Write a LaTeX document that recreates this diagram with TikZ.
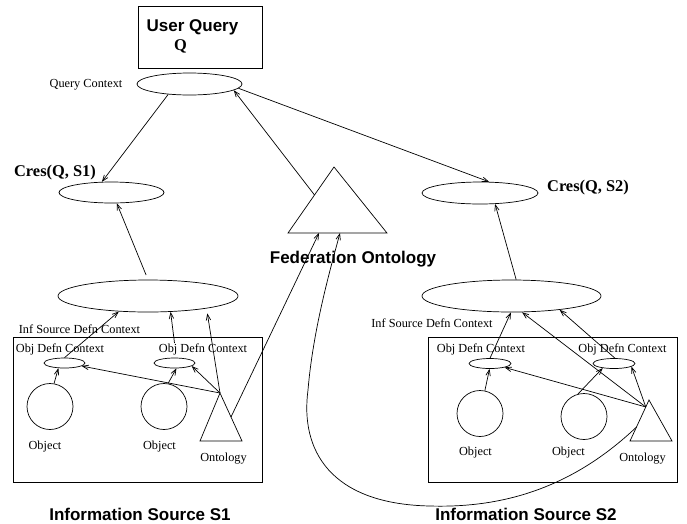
\documentclass[tikz,border=0pt]{standalone}
\usepackage{fontspec}
\setmainfont{Liberation Serif}
\newfontfamily\hvfont{Liberation Sans}
\usetikzlibrary{shapes.geometric,arrows.meta,calc}
\begin{document}
\begin{tikzpicture}[x=1pt,y=-1pt,line width=0.7pt,
  arr/.style={-{Straight Barb[length=6pt,width=4.5pt]}},
  ell/.style={draw,ellipse,inner sep=0pt},
  circ/.style={draw,circle,inner sep=0pt,minimum size=46pt},
  boxed/.style={draw,line width=0.9pt,inner sep=0pt},
  small/.style={font=\fontsize{12.3}{14}\selectfont,inner sep=0pt},
  big/.style={font=\hvfont\bfseries\fontsize{17}{20}\selectfont,inner sep=0pt},
  bigser/.style={font=\bfseries\fontsize{16.4}{19}\selectfont,inner sep=0pt}]
\useasboundingbox (0,0) rectangle (687,523);

% boxes
\node[boxed,minimum width=124pt,minimum height=62pt] (uq) at (200,37) {};
\node[big] (uqt) at (192.5,27) {User Query};
\node[bigser] (uqq) at (180.5,46) {Q};
\node[boxed,minimum width=249pt,minimum height=145pt] (box1) at (137.5,409.5) {};
\node[boxed,minimum width=249pt,minimum height=145pt] (box2) at (552.5,409.5) {};

% top ellipses
\node[ell,minimum width=105pt,minimum height=22pt] (qc) at (189.5,84) {};
\node[small] (qcl) at (86,85) {Query Context};
\node[ell,minimum width=105pt,minimum height=21pt] (c1) at (111.5,192.5) {};
\node[bigser] (c1l) at (55,173) {Cres(Q, S1)};
\node[ell,minimum width=116pt,minimum height=22pt] (c2) at (480,193) {};
\node[bigser] (c2l) at (588,188) {Cres(Q, S2)};

% federation ontology
\coordinate (fedA) at (334,167);
\coordinate (fedBL) at (288,233);
\coordinate (fedBR) at (387,233);
\draw (fedA) -- (fedBL) -- (fedBR) -- cycle;
\coordinate (fedL) at ($(fedBL)!0.576!(fedA)$);
\coordinate (fedB1) at (319,233);
\coordinate (fedB2) at (340,233);
\node[big] (fedl) at (353,259) {Federation Ontology};

% source 1
\node[ell,minimum width=180pt,minimum height=32pt] (i1) at (148,296) {};
\node[small] (i1l) at (79.5,329) {Inf Source Defn Context};
\node[small] (o1al) at (60,349) {Obj Defn Context};
\node[small] (o1bl) at (203,349) {Obj Defn Context};
\node[ell,minimum width=41pt,minimum height=10pt] (o1a) at (64.5,363) {};
\node[ell,minimum width=41pt,minimum height=10pt] (o1b) at (174.5,363) {};
\node[circ] (ob1a) at (50,406.5) {};
\node[circ] (ob1b) at (164,406.5) {};
\node[small] (ob1al) at (45,447) {Object};
\node[small] (ob1bl) at (159.5,447) {Object};
\coordinate (ont1A) at (220,393);
\coordinate (ont1BL) at (200,441);
\coordinate (ont1BR) at (242,441);
\draw (ont1A) -- (ont1BL) -- (ont1BR) -- cycle;
\coordinate (ont1R) at ($(ont1A)!0.5!(ont1BR)$);
\node[small] (ont1l) at (223.5,459) {Ontology};
\node[big] (s1l) at (140,514) {Information Source S1};

% source 2
\node[ell,minimum width=179pt,minimum height=32pt] (i2) at (511.5,296) {};
\node[small] (i2l) at (432,323) {Inf Source Defn Context};
\node[small] (o2al) at (481,349) {Obj Defn Context};
\node[small] (o2bl) at (622.5,349) {Obj Defn Context};
\node[ell,minimum width=42pt,minimum height=10pt] (o2a) at (490,363.5) {};
\node[ell,minimum width=42pt,minimum height=10pt] (o2b) at (614,363.5) {};
\node[circ] (ob2a) at (480,413.5) {};
\node[circ] (ob2b) at (584,416.5) {};
\node[small] (ob2al) at (475.5,453) {Object};
\node[small] (ob2bl) at (568.5,453) {Object};
\coordinate (ont2A) at (649,400);
\coordinate (ont2BL) at (630,441);
\coordinate (ont2BR) at (672,441);
\draw (ont2A) -- (ont2BL) -- (ont2BR) -- cycle;
\coordinate (ont2T) at ($(ont2A)!0.17!(ont2BL)$);
\coordinate (ont2L) at ($(ont2A)!0.66!(ont2BL)$);
\node[small] (ont2l) at (642.5,459) {Ontology};
\node[big] (s2l) at (526,514) {Information Source S2};

% top connectors
\draw[arr] (qc.206) -- (c1.132);
\draw[arr] (qc.-5) -- (c2.51);
\draw[arr] (fedL) -- (qc.-8);
\draw[arr,shorten <=5pt] (i1.90) -- (c1.-64);
\draw[arr] (i2.74) -- (c2.-36);
\draw[arr] (ont1R) -- (fedB1);
\draw[arr] (ont2L) .. controls (570,490) and (500,508) .. (430,506)
  .. controls (330,504) and (300,450) .. (308,390)
  .. controls (313,330) and (330,270) .. (fedB2);

% source 1 connectors
\draw[arr] (ob1a.80) -- (o1a.220);
\draw[arr] (o1a.90) -- (i1.208);
\draw[arr] (ob1b.80) -- (o1b.-70);
\draw[arr] (o1bl.north -| o1b) -- (i1.-35);
\draw[arr] (ont1A) -- (o1a.-10);
\draw[arr] (ont1A) -- (o1b.-10);
\draw[arr,shorten >=5pt] (ont1A) -- (i1.-12);

% source 2 connectors
\draw[arr] (ob2a.78) -- (o2a.-95);
\draw[arr] (o2a.90) -- (i2.-92);
\draw[arr] (ob2b.105) -- (o2b.202);
\draw[arr] (o2b.80) -- (i2.-16);
\draw[arr] (ont2T) -- (o2a.-15);
\draw[arr] (ont2T) -- (o2b.-10);
\draw[arr] (ont2T) -- (i2.-57);
\end{tikzpicture}
\end{document}
